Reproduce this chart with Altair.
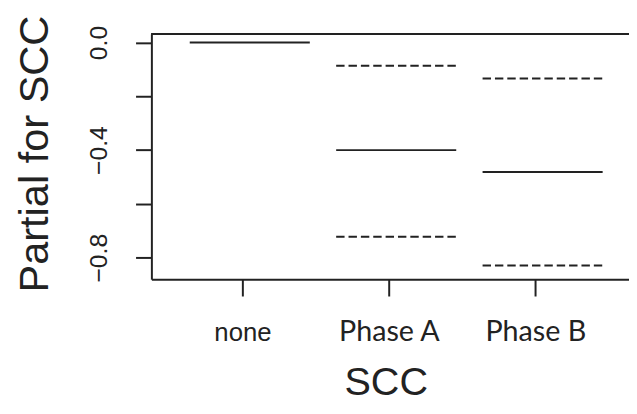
import pandas as pd
import altair as alt

FONT = "Liberation Sans"
INK = "#222222"

categories = ["none", "Phase A", "Phase B"]
effect = [0.0, -0.400, -0.481]
upper = [0.0, -0.086, -0.134]
lower = [0.0, -0.722, -0.829]

df = pd.DataFrame({"SCC": categories, "effect": effect, "upper": upper, "lower": lower})
df["pos"] = range(1, len(categories) + 1)

# segment extent around each level (slightly right of the tick, as in the source)
LEFT, RIGHT = 0.36, 0.46
W, H = 483, 248

x_scale = alt.Scale(domain=[0.378, 3.64], nice=False, zero=False)
y_scale = alt.Scale(domain=[-0.880, 0.032], nice=False, zero=False)

x_axis = alt.Axis(
    values=[1, 2, 3],
    labelExpr="['', 'none', 'Phase A', 'Phase B'][datum.value]",
    title="SCC",
    grid=False,
    tickSize=17,
    labelPadding=45,
    labelBaseline="alphabetic",
    labelFlush=False,
    labelOverlap=False,
    labelFont={"expr": "datum.value == 1 ? 'Liberation Sans' : 'Lato'"},
    labelFontSize={"expr": "datum.value == 1 ? 26 : 29"},
    titleFontSize=40,
    titleX=237,
    titleY=117,
    titleAlign="center",
    titleBaseline="alphabetic",
)
y_axis = alt.Axis(
    values=[0, -0.2, -0.4, -0.6, -0.8],
    labelExpr="datum.value == 0 ? '0.0' : (abs(datum.value + 0.2) < 1e-6 || abs(datum.value + 0.6) < 1e-6) ? '' : format(datum.value, '.1f')",
    title="Partial for SCC",
    grid=False,
    tickSize=16,
    labelAngle=270,
    labelAlign="center",
    labelBaseline="bottom",
    labelPadding=24,
    labelOverlap=False,
    labelFontSize=25,
    titleFontSize=42,
    titleAngle=270,
    titleX=-105,
    titleY=121,
    titleAlign="center",
    titleBaseline="alphabetic",
)

base = alt.Chart(df).transform_calculate(
    x0=f"datum.pos - {LEFT}", x1=f"datum.pos + {RIGHT}"
)

fit = base.mark_rule(color=INK, strokeWidth=2).encode(
    x=alt.X("x0:Q", scale=x_scale, axis=x_axis),
    x2="x1:Q",
    y=alt.Y("effect:Q", scale=y_scale, axis=y_axis),
)

bands = (
    base.transform_filter("datum.upper != datum.lower")
    .transform_fold(["upper", "lower"], as_=["bound", "val"])
    .mark_rule(color=INK, strokeWidth=2, strokeDash=[8.5, 4])
    .encode(
        x=alt.X("x0:Q", scale=x_scale, axis=x_axis),
        x2="x1:Q",
        y=alt.Y("val:Q", scale=y_scale, axis=y_axis),
        detail="bound:N",
    )
)

top_edge = alt.Chart(df).mark_rule(color=INK, strokeWidth=2).encode(
    x=alt.value(0), x2=alt.value(W), y=alt.value(0)
)

chart = (
    alt.layer(bands, fit, top_edge)
    .properties(
        width=W,
        height=H,
        autosize=alt.AutoSizeParams(type="none"),
        padding={"left": 145, "top": 24, "right": 0, "bottom": 126},
        background="white",
    )
    .configure_view(stroke=None)
    .configure_axis(
        domainColor=INK,
        domainWidth=2,
        tickColor=INK,
        tickWidth=2,
        labelColor=INK,
        titleColor=INK,
        labelFont=FONT,
        titleFont=FONT,
        titleFontWeight="normal",
    )
)

chart.save("out.html", embed_options={"renderer": "svg", "actions": False})
